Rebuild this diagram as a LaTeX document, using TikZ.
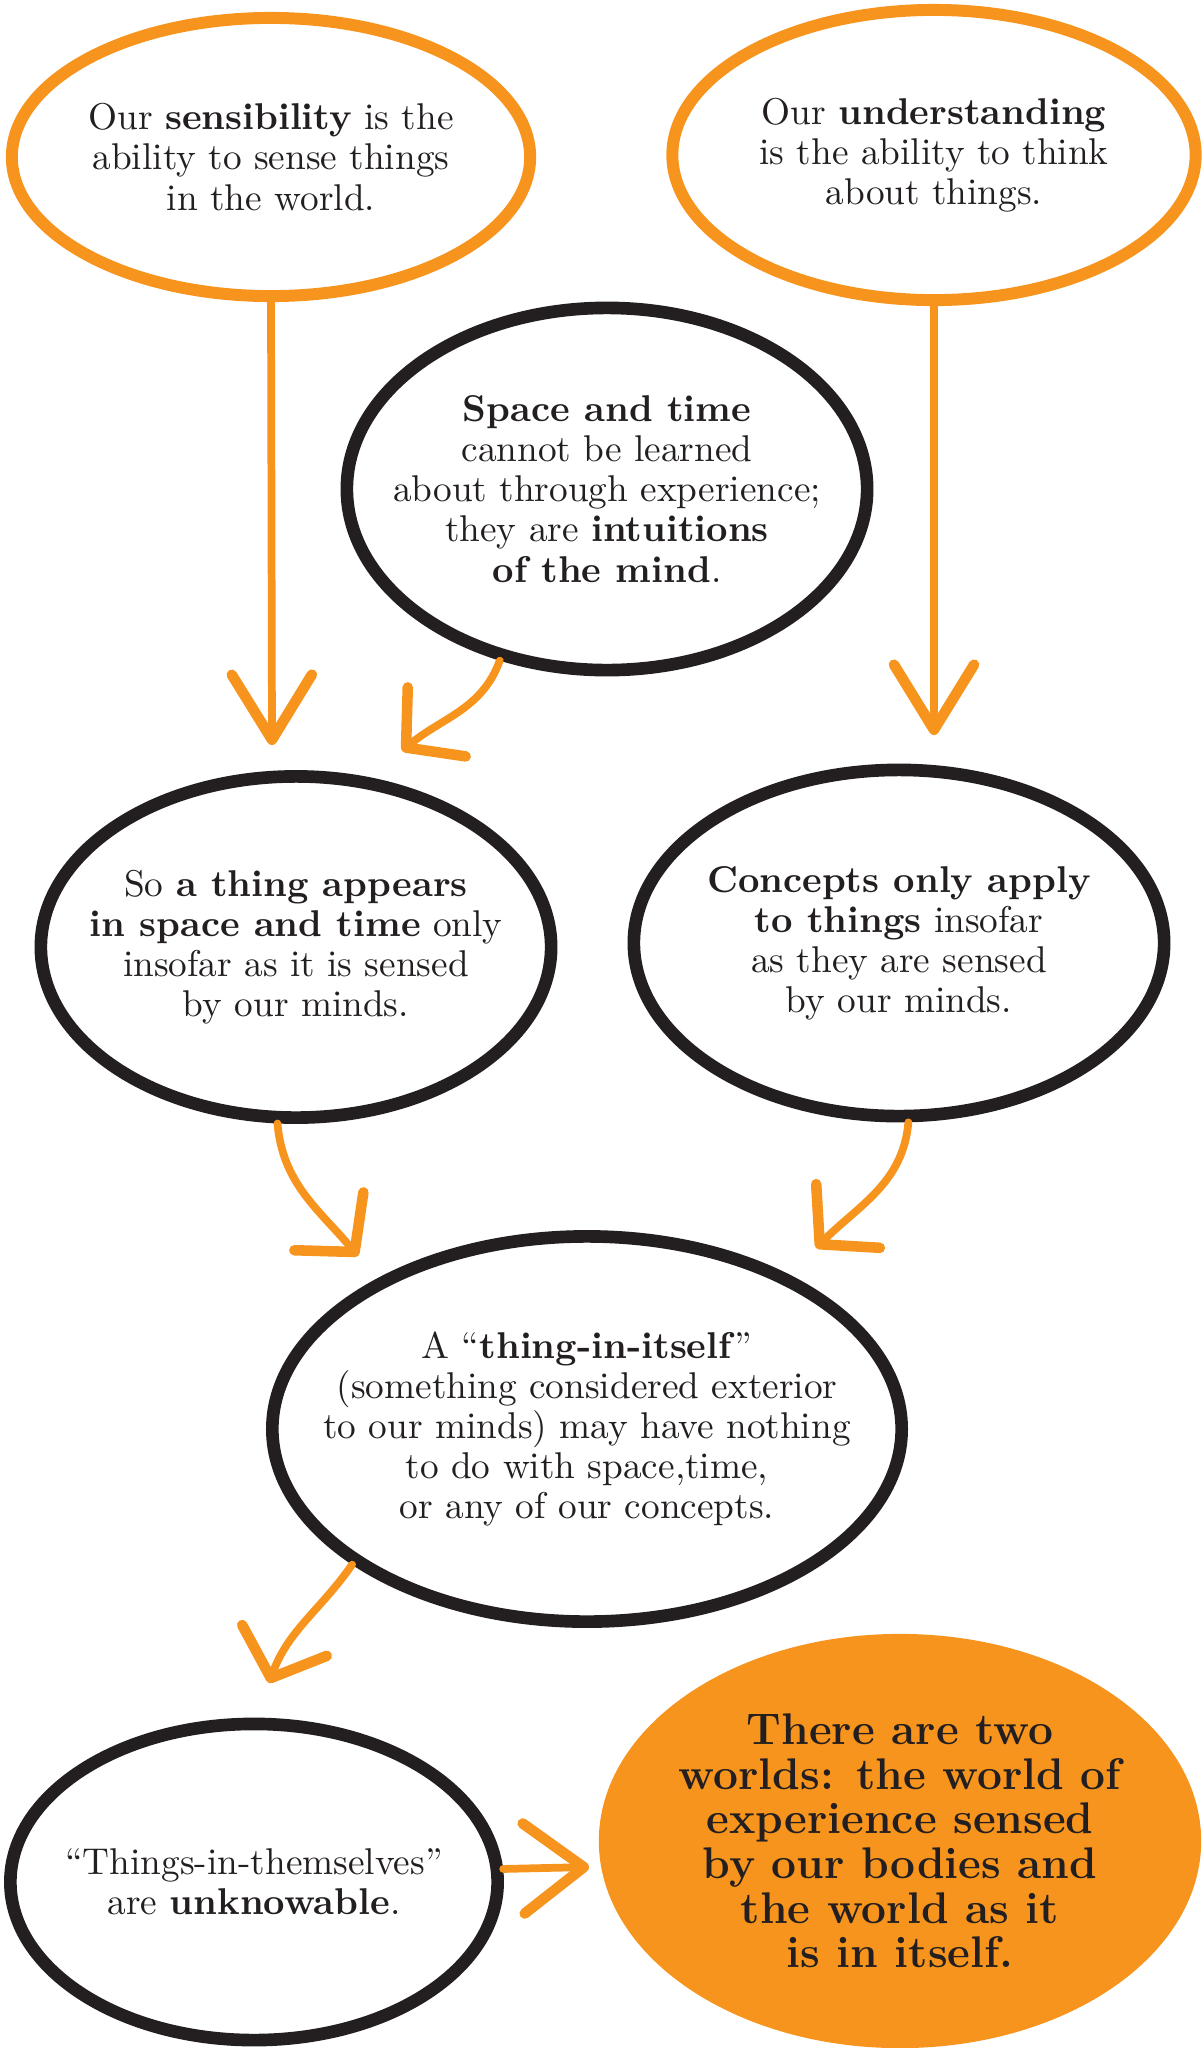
\documentclass[tikz,border=0pt]{standalone}
\usepackage{xcolor}
\usepackage{tikz}
\usetikzlibrary{shapes.geometric,arrows.meta,positioning}
\definecolor{kantorange}{RGB}{247,148,29}
\definecolor{inkblack}{RGB}{35,31,32}

\begin{document}
\begin{tikzpicture}[
    x=0.01cm, y=0.01cm,
    % bubbles: orange for the two faculties, black for the steps, filled for the conclusion
    faculty/.style={ellipse, draw=kantorange, line width=3.4pt, align=center, inner xsep=-1.6cm, inner ysep=-0.6cm, font=\fontsize{10.6}{11.4}\selectfont, text=inkblack},
    claim/.style={ellipse, draw=inkblack, line width=3.6pt, align=center, inner xsep=-1.6cm, inner ysep=-0.6cm, font=\fontsize{10.6}{11.4}\selectfont, text=inkblack},
    verdict/.style={ellipse, fill=kantorange, align=center, inner xsep=-1.6cm, inner ysep=-0.6cm, font=\fontsize{12.6}{12.7}\selectfont\bfseries, text=inkblack},
    arrow/.style={-{Straight Barb[length=6.5mm,width=8mm,line width=3pt,round]}, line width=2.2pt, color=kantorange, line cap=round},
    sidearrow/.style={-{Straight Barb[length=6mm,width=9mm,line width=3pt,round]}, line width=2.2pt, color=kantorange, line cap=round},
    bentarrow/.style={-{Straight Barb[length=4mm,width=9mm,line width=3pt,round]}, line width=2.2pt, color=kantorange, line cap=round}
]
\useasboundingbox (0,0) rectangle (1204,-2048);

% Row 1: the two faculties
\node [faculty, minimum width=5.18cm, minimum height=2.78cm] (sens) at (271,-157) {Our \textbf{sensibility} is the\\ability to sense things\\in the world.};
\node [faculty, minimum width=5.23cm, minimum height=2.9cm] (und) at (934,-155) {Our \textbf{understanding}\\is the ability to think\\about things.};

% Row 2: space and time
\node [claim, minimum width=5.2cm, minimum height=3.62cm] (space) at (607,-489) {\textbf{Space and time}\\cannot be learned\\about through experience;\\they are \textbf{intuitions}\\\textbf{of the mind}.};

% Row 3: appearances and concepts
\node [claim, minimum width=5.1cm, minimum height=3.41cm] (appears) at (296,-947) {So \textbf{a thing appears}\\\textbf{in space and time} only\\insofar as it is sensed\\by our minds.};
\node [claim, minimum width=5.3cm, minimum height=3.46cm] (concepts) at (899,-943) {\textbf{Concepts only apply}\\\textbf{to things} insofar\\as they are sensed\\by our minds.};

% Row 4: thing-in-itself
\node [claim, minimum width=6.29cm, minimum height=3.85cm] (itself) at (587,-1429) {A “\textbf{thing-in-itself}”\\(something considered exterior\\to our minds) may have nothing\\to do with space,time,\\or any of our concepts.};

% Row 5: conclusion
\node [claim, minimum width=4.87cm, minimum height=3.16cm] (themselves) at (254,-1882) {“Things-in-themselves”\\are \textbf{unknowable}.};
\node [verdict, minimum width=6.02cm, minimum height=4.14cm] (worlds) at (900,-1841) {There are two\\worlds: the world of\\experience sensed\\by our bodies and\\the world as it\\is in itself.};

% arrow tips stop short of the bubbles
\coordinate (tipA) at (272,-745);
\coordinate (tipB) at (934,-735);
\coordinate (tipC) at (402,-751);
\coordinate (tipD) at (358,-1256);
\coordinate (tipE) at (816,-1248);
\coordinate (tipF) at (269,-1683);
\coordinate (tipG) at (589,-1867);

% Faculties down to row 3
\draw [arrow] (sens.south) -- (tipA);
\draw [arrow] (und.south) -- (tipB);
\draw [bentarrow] (space.238) to[out=-110,in=40] (tipC);

% Row 3 into the thing-in-itself
\draw [bentarrow] (appears.264) to[out=-85,in=130] (tipD);
\draw [bentarrow] (concepts.273) to[out=-95,in=45] (tipE);

% Down to the conclusion
\draw [bentarrow] (itself.210) to[out=-125,in=70] (tipF);
\draw [sidearrow] (themselves.3) -- (tipG);

\end{tikzpicture}
\end{document}
